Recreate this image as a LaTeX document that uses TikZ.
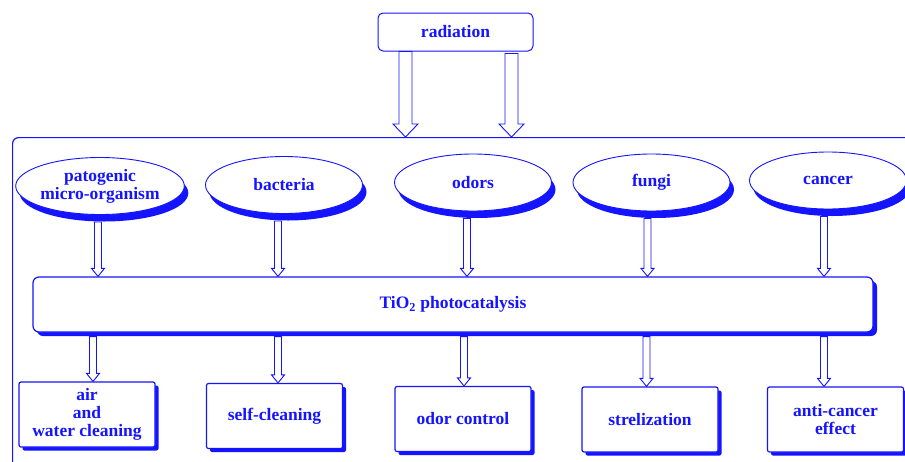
\documentclass[tikz,border=0pt]{standalone}
\usepackage{fontspec}
\setmainfont{Liberation Serif}
\usetikzlibrary{shapes.geometric,shadows,calc}
\definecolor{dblue}{RGB}{20,20,255}

% hollow block arrow: x taken from #1, from the y of #2 down to the y of #3
\newcommand{\hollowedge}[6]{%
  \draw[hollow] let \p1=#1, \p2=#2, \p3=#3 in
    (\x1-#4,\y2) -- (\x1-#4,\y3+#6) -- (\x1-#5,\y3+#6) -- (\x1,\y3)
    -- (\x1+#5,\y3+#6) -- (\x1+#4,\y3+#6) -- (\x1+#4,\y2) -- cycle;
}

\tikzset{
  hollow/.style={draw=dblue, line width=0.9pt, fill=white, line join=miter},
  container/.style={draw=dblue, line width=1.2pt, rounded corners=6pt, inner sep=0pt},
  source/.style={draw=dblue, line width=1pt, rounded corners=5pt, fill=white,
    minimum width=155pt, minimum height=38pt},
  cause/.style={ellipse, draw=dblue, line width=0.9pt, fill=white, inner sep=0pt,
    minimum width=157pt, minimum height=57pt, align=center,
    drop shadow={shadow xshift=4pt, shadow yshift=-7pt, fill=dblue, opacity=1}},
  process/.style={draw=dblue, line width=1.2pt, rounded corners=6pt, fill=white,
    minimum width=840pt, minimum height=55pt,
    drop shadow={shadow xshift=4pt, shadow yshift=-4pt, fill=dblue, opacity=1}},
  effect/.style={draw=dblue, line width=1.2pt, rounded corners=2pt, fill=white,
    minimum width=136pt, minimum height=65pt, align=center,
    drop shadow={shadow xshift=3.5pt, shadow yshift=-3.5pt, fill=dblue, opacity=1}},
}

\begin{document}
\begin{tikzpicture}[x=1pt, y=-1pt, text=dblue,
    font=\bfseries\fontsize{17.5}{18}\selectfont]
  \useasboundingbox (0,0) rectangle (905,461);
  \clip (0,0) rectangle (905,461);

  \node[container, anchor=north west, minimum width=930pt, minimum height=360pt] (frame) at (12,137) {};
  \node[source] (rad) at (455.5,32) {radiation};

  \node[cause] (pat) at (100,186) {patogenic\\micro-organism};
  \node[cause] (bac) at (284,185) {bacteria};
  \node[cause] (odo) at (473,182.5) {odors};
  \node[cause] (fun) at (651.5,182.5) {fungi};
  \node[cause] (can) at (828,180.5) {cancer};

  \node[process] (tio) at (453,304.5) {TiO\textsubscript{2} photocatalysis};

  \node[effect] (air) at (87,414.5) {air\\and\\water cleaning};
  \node[effect] (self) at (274.5,416) {self-cleaning};
  \node[effect] (odc) at (463,419) {odor control};
  \node[effect] (ste) at (650,419.5) {strelization};
  \node[effect] (anti) at (835.5,419.5) {anti-cancer\\effect};

  \coordinate (r1) at ([xshift=-50pt]rad.south);
  \coordinate (r2) at ([xshift=56pt]rad.south);
  \hollowedge{(r1)}{(rad.south)}{(frame.north)}{6.5pt}{12.5pt}{13pt}
  \hollowedge{(r2)}{([yshift=-2pt]rad.south)}{(frame.north)}{6.5pt}{12.5pt}{13pt}

  \foreach \c/\e/\dt/\db in {pat/air/-2pt/-7pt, bac/self/-6pt/-6pt, odo/odc/-6pt/-9pt,
      fun/ste/-4pt/-5pt, can/anti/-4pt/-4pt} {
    \hollowedge{([xshift=\dt]\c.south)}{([yshift=-7pt]\c.south)}{(tio.north)}{3.5pt}{6.5pt}{8pt}
    \hollowedge{([xshift=\db]\c.south)}{([yshift=-4pt]tio.south)}{(\e.north)}{3.5pt}{6.5pt}{8pt}
  }
\end{tikzpicture}
\end{document}
